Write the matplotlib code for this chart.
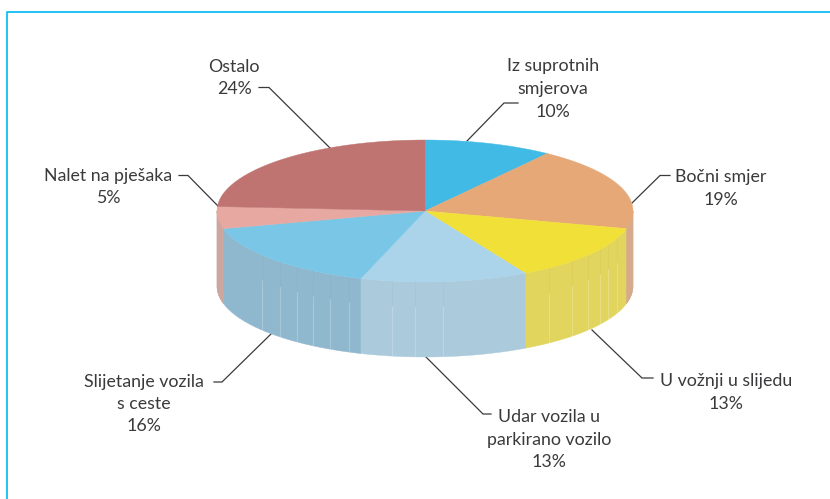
import numpy as np
import matplotlib
matplotlib.use('Agg')
import matplotlib.pyplot as plt
from matplotlib.patches import Polygon

# values, clockwise from 12 o'clock
categories = ['Iz suprotnih\nsmjerova', 'Bočni smjer', 'U vožnji u slijedu', 'Udar vozila u\nparkirano vozilo',
              'Slijetanje vozila\ns ceste', 'Nalet na pješaka', 'Ostalo']
values = [10, 19, 13, 13, 16, 5, 24]

top_colors = ['#41BBE6', '#E7A878', '#F0E038', '#ABD3EA', '#7AC6E6', '#E6A8A0', '#BF7472']
side_colors = ['#41BBE6', '#D6AB8B', '#E2D55E', '#ABCADB', '#8FB8CF', '#CDA69E', '#BF7472']
text_color = '#3A3A3C'
line_color = '#3A3A3C'
frame_color = '#1FC3F2'

# label centre x, first line centre y, line spacing
label_pos = [(553, 66, 23), (721, 177, 23), (726, 381, 23), (549, 417, 22.5),
             (144, 382, 22), (108, 176, 22), (234, 67, 22)]

# leader polylines in pixel coords
leaders = [[(518, 103), (504, 103), (467, 141)],
           [(670, 175.5), (660, 175.5), (632, 203)],
           [(653, 378), (642, 378), (592, 330)],
           [(491, 414), (483, 414), (426, 357)],
           [(214, 382), (222, 382), (271, 334)],
           [(179, 175.5), (188, 175.5), (218, 206)],
           [(259, 87.5), (269, 87.5), (330, 148)]]

# facet seams on the side wall
seams = [262, 280, 297, 313, 330, 349, 392, 415, 443, 549, 572, 588, 600, 608, 617]

cx, cy = 425, 211
rx, ry = 208, 71
depth = 75


def rim(a, b, n=80):
    # a, b in degrees clockwise from the top
    t = np.radians(np.linspace(a, b, n))
    return cx + rx * np.sin(t), cy - ry * np.cos(t)


def rim_y(x):
    return cy + ry * np.sqrt(1 - ((x - cx) / rx) ** 2)


fig = plt.figure(figsize=(8.3, 4.99), dpi=100)
ax = fig.add_axes([0, 0, 1, 1])
ax.set_xlim(0, 830)
ax.set_ylim(499, 0)
ax.axis('off')

plt.rcParams['font.family'] = ['Lato', 'DejaVu Sans']

# frame
ax.plot([6.5, 6.5, 830], [499, 11.5, 11.5], color=frame_color, lw=1.4, solid_capstyle='butt')

angles = np.cumsum([0] + values) * 3.6

# side wall: back to front so that the front pieces overlap
for i in range(len(values)):
    a, b = angles[i], angles[i + 1]
    a2, b2 = max(a, 90), min(b, 270)
    if a2 >= b2:
        continue
    x, y = rim(a2, b2)
    pts = np.vstack([np.c_[x, y], np.c_[x[::-1], y[::-1] + depth]])
    ax.add_patch(Polygon(pts, closed=True, fc=side_colors[i], ec=side_colors[i], lw=0.3, zorder=2))

# the wall also shows past the front slices at both ends
for a, b, i in [(90, angles[2], 1), (angles[5], 270, 5)]:
    x, y = rim(a, b)
    pts = np.vstack([np.c_[x, y], np.c_[x[::-1], y[::-1] + depth]])
    ax.add_patch(Polygon(pts, closed=True, fc=side_colors[i], ec=side_colors[i], lw=0.3, zorder=2))

for sx in seams:
    y0 = rim_y(sx)
    ax.plot([sx, sx], [y0, y0 + depth * 0.33], color='#000000', alpha=0.025, lw=0.8, zorder=3)
    ax.plot([sx, sx], [y0 + depth * 0.33, y0 + depth], color='#FFFFFF', alpha=0.22, lw=0.8, zorder=3)

# top face
for i in range(len(values)):
    x, y = rim(angles[i], angles[i + 1])
    pts = np.vstack([[cx, cy], np.c_[x, y]])
    ax.add_patch(Polygon(pts, closed=True, fc=top_colors[i], ec=top_colors[i], lw=0.3, zorder=4))

for pts in leaders:
    xs, ys = zip(*pts)
    ax.plot(xs, ys, color=line_color, lw=0.9, zorder=1, solid_joinstyle='miter')

for name, val, (lx, ly, sp) in zip(categories, values, label_pos):
    lines = name.split('\n') + ['%d%%' % val]
    for k, line in enumerate(lines):
        ax.text(lx, ly + k * sp, line, ha='center', va='center', fontsize=12.8, color=text_color, zorder=5)

fig.savefig('out.png', dpi=100)
